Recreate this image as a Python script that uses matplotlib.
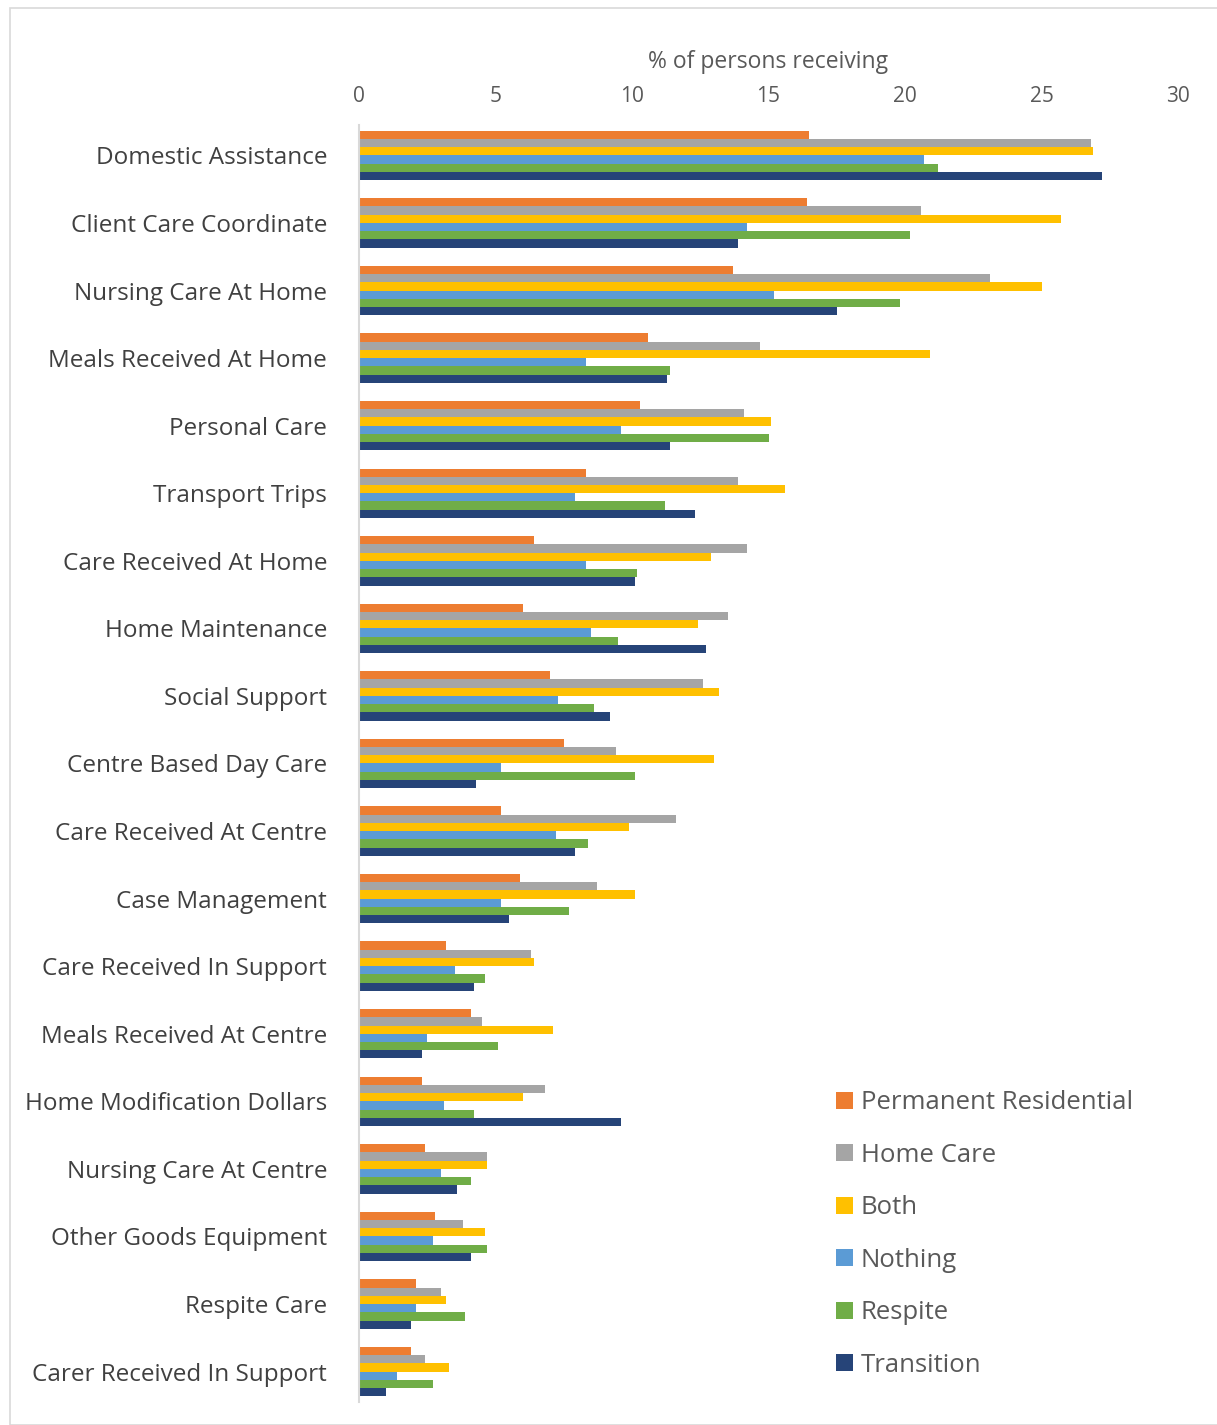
import matplotlib.pyplot as plt
import numpy as np
from matplotlib.patches import Rectangle

plt.rcParams['font.family'] = ['Open Sans', 'DejaVu Sans']

categorias = ["Domestic Assistance", "Client Care Coordinate", "Nursing Care At Home",
              "Meals Received At Home", "Personal Care", "Transport Trips",
              "Care Received At Home", "Home Maintenance", "Social Support",
              "Centre Based Day Care", "Care Received At Centre", "Case Management",
              "Care Received In Support", "Meals Received At Centre",
              "Home Modification Dollars", "Nursing Care At Centre",
              "Other Goods Equipment", "Respite Care", "Carer Received In Support"]

permanent = [16.5, 16.4, 13.7, 10.6, 10.3, 8.3, 6.4, 6.0, 7.0, 7.5, 5.2, 5.9, 3.2, 4.1, 2.3, 2.4, 2.8, 2.1, 1.9]
home_care = [26.8, 20.6, 23.1, 14.7, 14.1, 13.9, 14.2, 13.5, 12.6, 9.4, 11.6, 8.7, 6.3, 4.5, 6.8, 4.7, 3.8, 3.0, 2.4]
both = [26.9, 25.7, 25.0, 20.9, 15.1, 15.6, 12.9, 12.4, 13.2, 13.0, 9.9, 10.1, 6.4, 7.1, 6.0, 4.7, 4.6, 3.2, 3.3]
nothing = [20.7, 14.2, 15.2, 8.3, 9.6, 7.9, 8.3, 8.5, 7.3, 5.2, 7.2, 5.2, 3.5, 2.5, 3.1, 3.0, 2.7, 2.1, 1.4]
respite = [21.2, 20.2, 19.8, 11.4, 15.0, 11.2, 10.2, 9.5, 8.6, 10.1, 8.4, 7.7, 4.6, 5.1, 4.2, 4.1, 4.7, 3.9, 2.7]
transition = [27.2, 13.9, 17.5, 11.3, 11.4, 12.3, 10.1, 12.7, 9.2, 4.3, 7.9, 5.5, 4.2, 2.3, 9.6, 3.6, 4.1, 1.9, 1.0]

series = ["Permanent Residential", "Home Care", "Both", "Nothing", "Respite", "Transition"]
valores = [permanent, home_care, both, nothing, respite, transition]
cores = ["#ED7D31", "#A5A5A5", "#FFC000", "#5B9BD5", "#70AD47", "#264478"]

fig = plt.figure(figsize=(12.17, 14.25), dpi=100)
# moldura cinza clara em volta do gráfico
fig.patches.append(Rectangle((10/1217, 0), 1.0, 1 - 8/1425, transform=fig.transFigure,
                             fill=False, edgecolor="#D9D9D9", linewidth=1.2))

ax = fig.add_axes([359/1217, 23/1425, (1178-359)/1217, (1402-125)/1425])

y = np.arange(len(categorias))
h = 0.122
for i, (nome, vals, cor) in enumerate(zip(series, valores, cores)):
    ax.barh(y - 2.5*h + i*h, vals, height=h, color=cor, label=nome)

ax.set_xlim(0, 30)
ax.set_ylim(len(categorias) - 0.55, -0.45)
ax.set_yticks(y)
ax.set_yticklabels(categorias, fontsize=17.5, color="#404040")
ax.xaxis.tick_top()
ax.xaxis.set_label_position("top")
ax.set_xticks(range(0, 31, 5))
ax.tick_params(axis="x", length=0, labelsize=15, labelcolor="#595959", pad=13)
ax.tick_params(axis="y", length=0, pad=23)
ax.set_xlabel("% of persons receiving", fontsize=16.5, color="#595959", labelpad=13)

for s in ["top", "right", "bottom"]:
    ax.spines[s].set_visible(False)
ax.spines["left"].set_color("#D9D9D9")
ax.spines["left"].set_linewidth(1.5)

leg = ax.legend(loc="lower left", bbox_to_anchor=(813/1217, 24/1425), bbox_transform=fig.transFigure,
                frameon=False, fontsize=18.5, handlelength=0.65, handleheight=0.65,
                handletextpad=0.3, labelspacing=1.07)
for t in leg.get_texts():
    t.set_color("#595959")

plt.savefig("out.png", dpi=100)
